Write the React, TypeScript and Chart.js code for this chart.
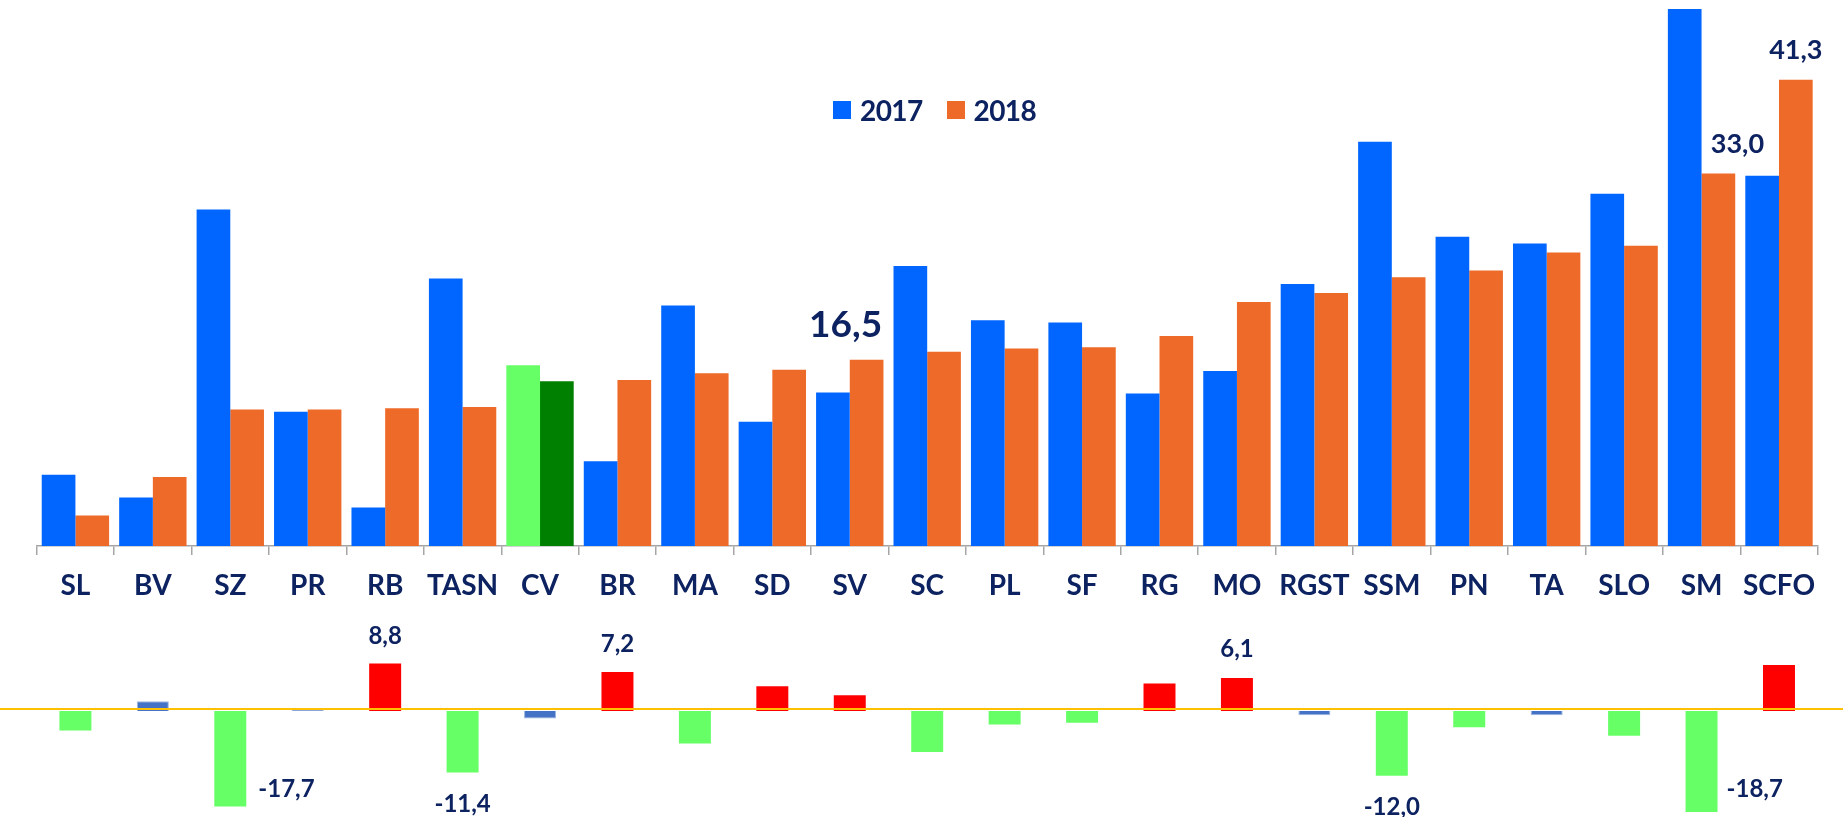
import React, { useEffect, useRef } from 'react';
import { Chart, registerables } from 'chart.js';

Chart.register(...registerables);

// ---------- data ----------
const categories = ['SL', 'BV', 'SZ', 'PR', 'RB', 'TASN', 'CV', 'BR', 'MA', 'SD', 'SV', 'SC', 'PL', 'SF', 'RG', 'MO', 'RGST', 'SSM', 'PN', 'TA', 'SLO', 'SM', 'SCFO'];
const seriesNames = ['2017', '2018'];
const values2017 = [6.3, 4.3, 29.8, 11.9, 3.4, 23.7, 16.0, 7.5, 21.3, 11.0, 13.6, 24.8, 20.0, 19.8, 13.5, 15.5, 23.2, 35.8, 27.4, 26.8, 31.2, 51.7, 32.8];
const values2018 = [2.7, 6.1, 12.1, 12.1, 12.2, 12.3, 14.6, 14.7, 15.3, 15.6, 16.5, 17.2, 17.5, 17.6, 18.6, 21.6, 22.4, 23.8, 24.4, 26.0, 26.6, 33.0, 41.3];
const diffValues = [-3.6, 1.8, -17.7, 0.2, 8.8, -11.4, -1.4, 7.2, -6.0, 4.6, 2.9, -7.6, -2.5, -2.2, 5.1, 6.1, -0.8, -12.0, -3.0, -0.8, -4.6, -18.7, 8.5];
const highlightCategory = 'CV';
const topLabelCategories = ['SV', 'SM', 'SCFO'];
const bottomLabelCategories = ['SZ', 'RB', 'TASN', 'BR', 'MO', 'SSM', 'SM'];

// ---------- styles ----------
const FONT = 'Lato, "Open Sans", sans-serif';
const NAVY = '#0D2260';
const BLUE = '#0066FF';
const ORANGE = '#EE6A28';
const LIGHT_GREEN = '#66FF66';
const DARK_GREEN = '#008000';
const RED = '#FF0000';
const SMALL_BLUE = '#4472C4';
const AXIS_GREY = '#A6A6A6';
const BASELINE_GOLD = '#FFC000';

const fmt = (v: number) => v.toFixed(1).replace('.', ',');

// label placement styles (offsets relative to the bar end)
const topLabelStyle: Record<string, { size: number; dx: number; gap: number }> = {
  SV: { size: 37, dx: -21, gap: 23 },
  SM: { size: 27, dx: 19, gap: 20 },
  SCFO: { size: 27, dx: 0, gap: 21 },
};
const bottomLabelStyle: Record<string, { align: 'center' | 'right'; dx: number; dy: number }> = {
  SZ: { align: 'right', dx: 12, dy: -9.5 },
  RB: { align: 'center', dx: 0, dy: -19 },
  TASN: { align: 'center', dx: 0, dy: 39 },
  BR: { align: 'center', dx: 0, dy: -20 },
  MO: { align: 'center', dx: 0, dy: -21 },
  SSM: { align: 'center', dx: 0, dy: 39.5 },
  SM: { align: 'right', dx: 9, dy: -14.5 },
};

const W = 1843;
const TOP_H = 626;
const BOTTOM_TOP = 620;
const BOTTOM_H = 197;
const PAD_LEFT = 36.7;
const PAD_RIGHT = 25.3;

const topLabelsPlugin = {
  id: 'topLabels',
  afterDatasetsDraw(chart: any) {
    const ctx = chart.ctx;
    const meta = chart.getDatasetMeta(1);
    ctx.save();
    ctx.fillStyle = NAVY;
    ctx.textAlign = 'center';
    ctx.textBaseline = 'alphabetic';
    topLabelCategories.forEach((c) => {
      const i = categories.indexOf(c);
      const bar = meta.data[i];
      const st = topLabelStyle[c];
      ctx.font = `bold ${st.size}px ${FONT}`;
      ctx.fillText(fmt(values2018[i]), bar.x + st.dx, bar.y - st.gap);
    });
    ctx.restore();
  },
};

const bottomPlugin = {
  id: 'bottomExtras',
  afterDatasetsDraw(chart: any) {
    const ctx = chart.ctx;
    const y0 = chart.scales.y.getPixelForValue(0);
    ctx.save();
    ctx.strokeStyle = BASELINE_GOLD;
    ctx.lineWidth = 2;
    ctx.beginPath();
    ctx.moveTo(0, y0 - 2);
    ctx.lineTo(chart.width, y0 - 2);
    ctx.stroke();

    const meta = chart.getDatasetMeta(0);
    ctx.fillStyle = NAVY;
    ctx.font = `bold 24px ${FONT}`;
    ctx.textBaseline = 'alphabetic';
    bottomLabelCategories.forEach((c) => {
      const i = categories.indexOf(c);
      const bar = meta.data[i];
      const st = bottomLabelStyle[c];
      if (st.align === 'right') {
        ctx.textAlign = 'left';
        ctx.fillText(fmt(diffValues[i]), bar.x + bar.width / 2 + st.dx, bar.y + st.dy);
      } else {
        ctx.textAlign = 'center';
        ctx.fillText(fmt(diffValues[i]), bar.x + st.dx, bar.y + st.dy);
      }
    });
    ctx.restore();
  },
};

export default function App() {
  const topRef = useRef<HTMLCanvasElement | null>(null);
  const bottomRef = useRef<HTMLCanvasElement | null>(null);

  useEffect(() => {
    document.body.style.margin = '0';
    const c2017 = categories.map((c) => (c === highlightCategory ? LIGHT_GREEN : BLUE));
    const c2018 = categories.map((c) => (c === highlightCategory ? DARK_GREEN : ORANGE));

    const top = new Chart(topRef.current as HTMLCanvasElement, {
      type: 'bar',
      data: {
        labels: categories,
        datasets: [
          { label: seriesNames[0], data: values2017, backgroundColor: c2017, clip: 0 as any },
          { label: seriesNames[1], data: values2018, backgroundColor: c2018, clip: 0 as any },
        ],
      },
      options: {
        responsive: false,
        animation: false,
        devicePixelRatio: 1,
        layout: { padding: { left: PAD_LEFT, right: PAD_RIGHT, top: 9, bottom: 0 } },
        datasets: { bar: { categoryPercentage: 0.87, barPercentage: 1 } },
        plugins: { legend: { display: false }, tooltip: { enabled: false } },
        scales: {
          x: {
            grid: { display: true, drawOnChartArea: false, drawTicks: true, tickLength: 9, color: AXIS_GREY, lineWidth: 1.5, offset: true },
            border: { display: true, color: AXIS_GREY, width: 1.5 },
            ticks: { color: NAVY, font: { family: FONT, size: 28, weight: 'bold' }, padding: 14, maxRotation: 0, autoSkip: false },
            afterFit: (scale: any) => { scale.height = 80; },
          },
          y: { display: false, min: 0, max: 47.56 },
        },
      },
      plugins: [topLabelsPlugin],
    });

    const bottom = new Chart(bottomRef.current as HTMLCanvasElement, {
      type: 'bar',
      data: {
        labels: categories,
        datasets: [
          {
            label: 'diff',
            data: diffValues,
            backgroundColor: (ctx: any) => {
              const v = ctx.raw as number;
              if (v > 2) return RED;
              if (v < -2) return LIGHT_GREEN;
              return SMALL_BLUE;
            },
            borderColor: '#9DB5E0',
            borderWidth: (ctx: any) => (Math.abs(ctx.raw as number) <= 2 ? 1 : 0),
          },
        ],
      },
      options: {
        responsive: false,
        animation: false,
        devicePixelRatio: 1,
        layout: { padding: { left: PAD_LEFT, right: PAD_RIGHT, top: 0, bottom: 0 } },
        datasets: { bar: { categoryPercentage: 0.413, barPercentage: 1 } },
        plugins: { legend: { display: false }, tooltip: { enabled: false } },
        scales: {
          x: { display: false },
          y: { display: false, min: -19.63, max: 16.85 },
        },
      },
      plugins: [bottomPlugin],
    });

    return () => {
      top.destroy();
      bottom.destroy();
    };
  }, []);

  const legendColors = [BLUE, ORANGE];

  return (
    <div style={{ position: 'absolute', left: 0, top: 0, width: W, height: 817, overflow: 'hidden', background: '#fff' }}>
      <canvas ref={topRef} width={W} height={TOP_H} style={{ position: 'absolute', left: 0, top: 0 }} />
      <canvas ref={bottomRef} width={W} height={BOTTOM_H} style={{ position: 'absolute', left: 0, top: BOTTOM_TOP }} />
      <div
        style={{
          position: 'absolute',
          left: 833,
          top: 96,
          display: 'flex',
          alignItems: 'center',
          fontFamily: FONT,
          fontWeight: 700,
          fontSize: 28,
          lineHeight: '28px',
          letterSpacing: '-0.6px',
          color: NAVY,
        }}
      >
        {seriesNames.map((name, i) => (
          <div key={name} style={{ display: 'flex', alignItems: 'center', marginRight: i === 0 ? 24 : 0 }}>
            <span style={{ width: 18, height: 18, background: legendColors[i], marginRight: 9, display: 'inline-block' }} />
            <span>{name}</span>
          </div>
        ))}
      </div>
    </div>
  );
}
